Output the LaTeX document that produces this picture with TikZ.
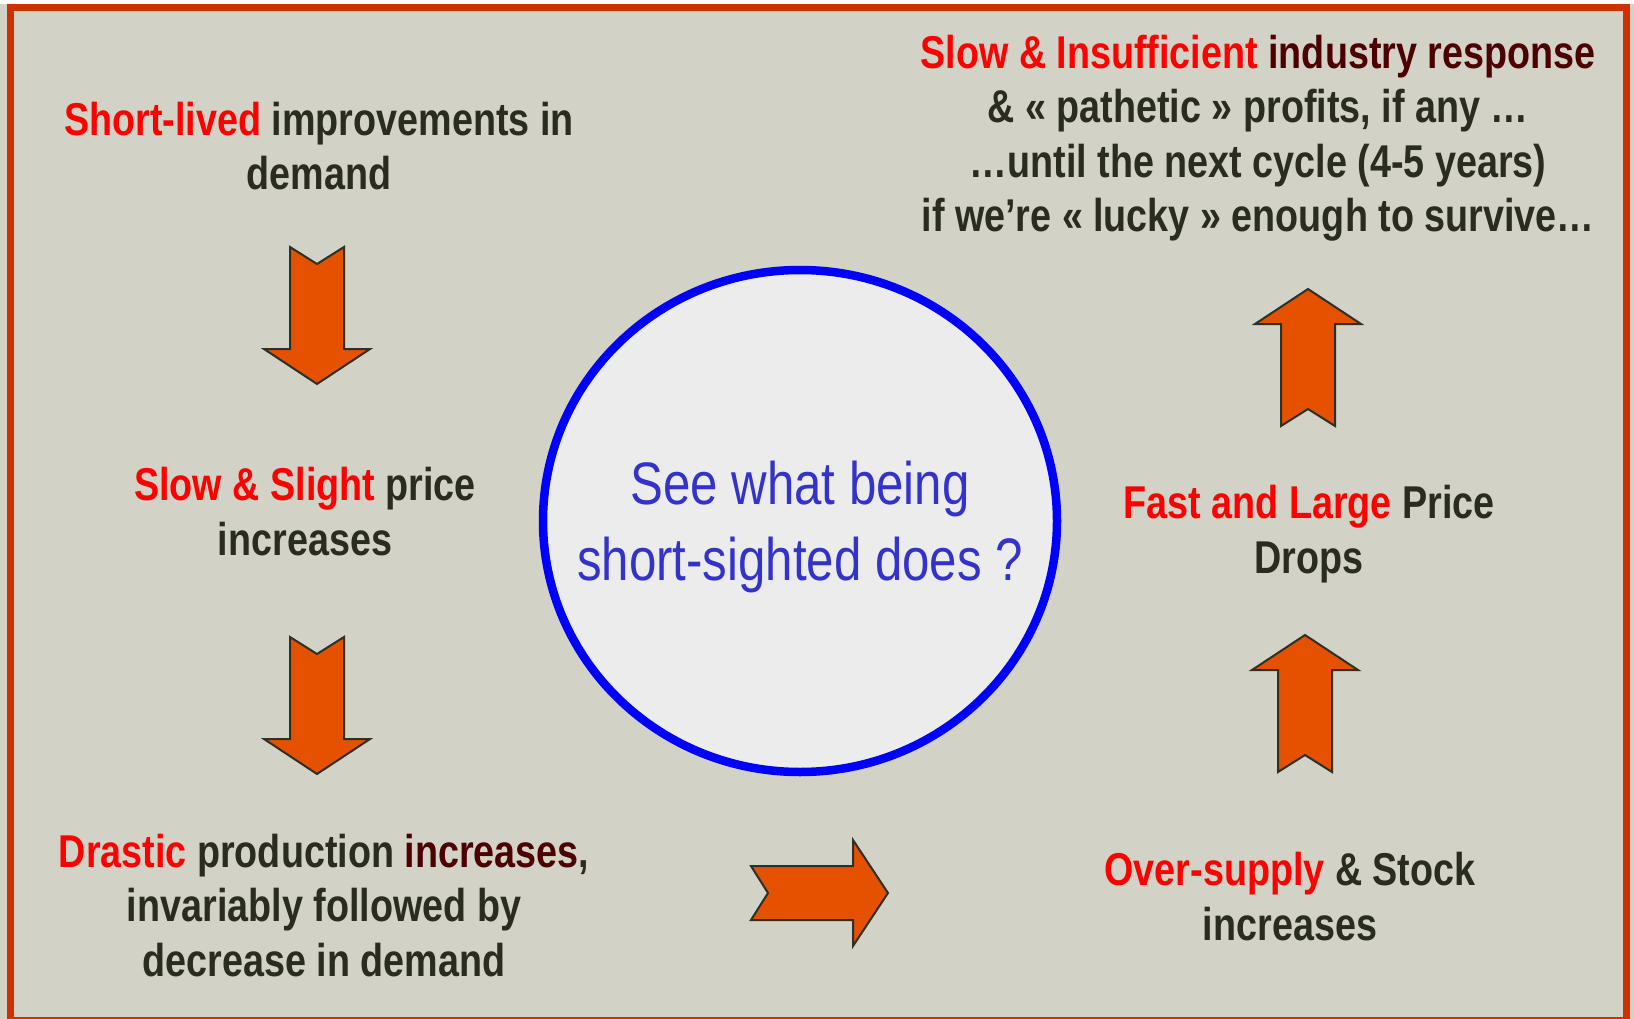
\documentclass[tikz,border=0pt]{standalone}
\usepackage{fontspec}
\setmainfont{Liberation Sans}[FakeStretch=0.82]
\usetikzlibrary{shapes.geometric}
\definecolor{bgcol}{HTML}{D2D2C6}
\definecolor{framecol}{HTML}{CC3300}
\definecolor{arrowfill}{HTML}{E65100}
\definecolor{arrowline}{HTML}{2D3026}
\definecolor{textdark}{HTML}{2A2C22}
\definecolor{maroon}{HTML}{4D0000}
\definecolor{hired}{HTML}{FF0000}
\definecolor{circtext}{HTML}{3333CC}
\definecolor{circfill}{HTML}{ECECEC}
\definecolor{circline}{HTML}{0000FF}
\tikzset{
  txt/.style={font=\fontsize{46}{54.5}\selectfont\bfseries, text=textdark, align=center, inner sep=0pt, anchor=base},
  arrowshape/.style={fill=arrowfill, draw=arrowline, line width=2pt, line join=miter},
  blockarrow/.pic={\draw[arrowshape] (0,-27) -- (102,-27) -- (102,-53) -- (137,0) -- (102,53) -- (102,27) -- (0,27) -- (17,0) -- cycle;}
}
\newcommand{\hr}[1]{\textcolor{hired}{#1}}
\newcommand{\mr}[1]{\textcolor{maroon}{#1}}
\begin{document}
\begin{tikzpicture}[x=1pt,y=-1pt]
\useasboundingbox (0,0) rectangle (1634,1019);
\fill[bgcol] (0,0) rectangle (1634,1019);
\fill[white] (0,0) rectangle (1634,4);
\draw[framecol, line width=7.5pt] (10.3,7.3) rectangle (1626.3,1021);
% circle
\node[ellipse, draw=circline, fill=circfill, line width=8.5pt, minimum width=514pt, minimum height=502pt, inner sep=0pt] (circ) at (800,521) {};
\node[font=\fontsize{60}{76}\selectfont, text=circtext, align=center, inner sep=0pt, anchor=base] (ctext) at (800,580) {See what being\\short-sighted does ?};
% texts (anchor base = baseline of the last line)
\node[txt] (t1) at (319,190) {\hr{Short-lived} improvements in\\demand};
\node[txt] (t2) at (305,555) {\hr{Slow \& Slight} price\\increases};
\node[txt] (t3) at (324,976) {\hr{Drastic} production \mr{increases},\\invariably followed by\\decrease in demand};
\node[txt] (t4) at (1290,940) {\hr{Over-supply} \& Stock\\increases};
\node[txt] (t5) at (1309,573) {\hr{Fast and Large} Price\\Drops};
\node[txt] (t6) at (1258,232) {\hr{Slow \& Insufficient} \mr{industry response}\\\& « pathetic » profits, if any …\\…until the next cycle (4-5 years)\\if we’re « lucky » enough to survive…};
% arrows
\pic[rotate=-90] at (317,247) {blockarrow};
\pic[rotate=-90] at (317,637) {blockarrow};
\pic at (751,893) {blockarrow};
\pic[rotate=90] at (1305,772) {blockarrow};
\pic[rotate=90] at (1308,426) {blockarrow};
\end{tikzpicture}
\end{document}
